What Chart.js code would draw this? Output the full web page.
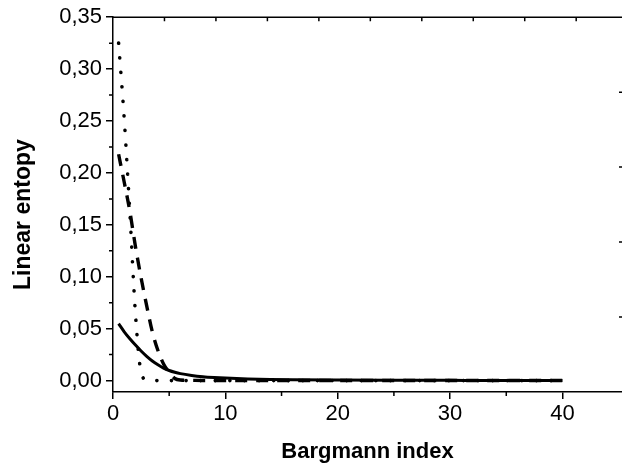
<!DOCTYPE html>
<html>
<head>
<meta charset="utf-8">
<script src="https://cdn.jsdelivr.net/npm/chart.js@4.4.1/dist/chart.umd.min.js"></script>
<style>
html,body{margin:0;padding:0;background:#ffffff;}
#wrap{width:622px;height:467px;position:relative;}
</style>
</head>
<body>
<div id="wrap"><canvas id="c"></canvas></div>
<script>
const xTitle = 'Bargmann index';
const yTitle = 'Linear entopy';

const bargmannIndex = [0.5, 1, 1.5, 2, 2.5, 3, 3.5, 4, 4.5, 5, 5.5, 6, 7, 8, 9, 10, 12, 14, 16, 20, 25, 30, 35, 40];
const solidEntropy  = [0.0548, 0.0470, 0.0403, 0.0342, 0.0285, 0.0234, 0.0189, 0.0152, 0.0120, 0.0097, 0.0080, 0.0067, 0.0050, 0.0038, 0.0030, 0.0024, 0.0016, 0.0011, 0.0008, 0.0005, 0.0003, 0.0002, 0.0001, 0.0001];
const dashedEntropy = [0.218, 0.191, 0.163, 0.129, 0.099, 0.072, 0.047, 0.029, 0.016, 0.008, 0.002, 0.0005, 0.0002, 0.0001, 0.0001, 0.0001, 0.0001, 0.0001, 0.0001, 0.0001, 0.0001, 0.0001, 0.0001, 0.0001];
const dottedEntropy = [0.325, 0.252, 0.162, 0.064, 0.008, 0.0005, 0, 0, 0, 0, 0, 0, 0, 0, 0, 0, 0, 0, 0, 0, 0, 0, 0, 0];

const xMajorTicks = [0, 10, 20, 30, 40];
const xMinorTicks = [5, 15, 25, 35];
const yMajorTicks = [0, 0.05, 0.10, 0.15, 0.20, 0.25, 0.30, 0.35];
const yMinorTicks = [0.025, 0.075, 0.125, 0.175, 0.225, 0.275, 0.325];
const topFrameTicks = [1, 2, 3, 4, 5, 6, 7, 8, 9];
const rightFrameTicks = [1, 2, 3, 4];

function pts(ys) { return bargmannIndex.map((x, i) => ({x: x, y: ys[i]})); }

const frameColor = '#000000';
const fontFamily = '"Liberation Sans", Arial, sans-serif';

const decorPlugin = {
  id: 'decor',
  afterDraw(chart) {
    const ctx = chart.ctx;
    const a = chart.chartArea;
    const xs = chart.scales.x, ys = chart.scales.y, x2 = chart.scales.x2, y2 = chart.scales.y2;
    ctx.save();
    ctx.strokeStyle = frameColor;
    ctx.lineWidth = 1.5;
    ctx.beginPath();
    ctx.moveTo(a.left, a.top);
    ctx.lineTo(a.right, a.top);
    ctx.stroke();
    ctx.beginPath();
    xMinorTicks.forEach(v => {
      const px = xs.getPixelForValue(v);
      ctx.moveTo(px, a.bottom);
      ctx.lineTo(px, a.bottom + 4);
    });
    yMinorTicks.forEach(v => {
      const py = ys.getPixelForValue(v);
      ctx.moveTo(a.left - 4, py);
      ctx.lineTo(a.left, py);
    });
    topFrameTicks.forEach(v => {
      const px = x2.getPixelForValue(v);
      ctx.moveTo(px, a.top);
      ctx.lineTo(px, a.top + 4);
    });
    rightFrameTicks.forEach(v => {
      const py = y2.getPixelForValue(v);
      ctx.moveTo(a.right, py);
      ctx.lineTo(a.right - 3, py);
    });
    ctx.stroke();
    ctx.fillStyle = '#000000';
    ctx.font = 'bold 23px ' + fontFamily;
    ctx.textAlign = 'center';
    ctx.textBaseline = 'alphabetic';
    ctx.translate(ys.left + 29.5, (a.top + a.bottom) / 2 + 10);
    ctx.rotate(-Math.PI / 2);
    ctx.fillText(yTitle, 0, 0);
    ctx.restore();
  }
};

new Chart(document.getElementById('c'), {
  type: 'line',
  data: {
    datasets: [
      {
        label: 'solid',
        data: pts(solidEntropy),
        borderColor: '#000000',
        borderWidth: 3,
        pointRadius: 0,
        fill: false,
        cubicInterpolationMode: 'monotone'
      },
      {
        label: 'dashed',
        data: pts(dashedEntropy),
        borderColor: '#000000',
        borderWidth: 3.4,
        borderDash: [12, 9],
        pointRadius: 0,
        fill: false,
        cubicInterpolationMode: 'monotone'
      },
      {
        label: 'dotted',
        data: pts(dottedEntropy),
        borderColor: '#000000',
        borderWidth: 3.6,
        borderDash: [0.1, 14.5],
        borderCapStyle: 'round',
        pointRadius: 0,
        fill: false,
        cubicInterpolationMode: 'monotone'
      }
    ]
  },
  options: {
    responsive: true,
    maintainAspectRatio: false,
    animation: false,
    devicePixelRatio: 1,
    layout: { padding: { top: 15, right: 0, left: 0, bottom: 0 } },
    plugins: { legend: { display: false }, tooltip: { enabled: false } },
    scales: {
      x: {
        type: 'linear',
        position: 'bottom',
        min: 0,
        max: 45.3,
        afterFit: s => { s.height = 75; },
        afterBuildTicks: s => { s.ticks = xMajorTicks.map(v => ({value: v})); },
        ticks: {
          color: '#000000',
          font: { family: fontFamily, size: 22 },
          padding: 2,
          maxRotation: 0,
          callback: v => String(v)
        },
        grid: { display: true, drawOnChartArea: false, drawTicks: true, tickLength: 7, color: frameColor, lineWidth: 1.5 },
        border: { display: true, color: frameColor, width: 1.5 },
        title: {
          display: true,
          text: xTitle,
          color: '#000000',
          font: { family: fontFamily, size: 22, weight: 'bold' },
          padding: { top: 0, bottom: 2 }
        }
      },
      y: {
        type: 'linear',
        position: 'left',
        min: -0.011,
        max: 0.35,
        afterFit: s => { s.width = 113; },
        afterBuildTicks: s => { s.ticks = yMajorTicks.map(v => ({value: v})); },
        ticks: {
          color: '#000000',
          font: { family: fontFamily, size: 22 },
          padding: 4,
          callback: v => v.toFixed(2).replace('.', ',')
        },
        grid: { display: true, drawOnChartArea: false, drawTicks: true, tickLength: 7, color: frameColor, lineWidth: 1.5 },
        border: { display: true, color: frameColor, width: 1.5 }
      },
      x2: {
        type: 'linear',
        position: 'top',
        min: 0,
        max: 9.89,
        afterFit: s => { s.height = 0; },
        ticks: { display: false },
        grid: { display: false, drawTicks: false },
        border: { display: false }
      },
      y2: {
        type: 'linear',
        position: 'right',
        min: 0,
        max: 5,
        afterFit: s => { s.width = 0; },
        ticks: { display: false },
        grid: { display: false, drawTicks: false },
        border: { display: false }
      }
    }
  },
  plugins: [decorPlugin]
});
</script>
</body>
</html>
